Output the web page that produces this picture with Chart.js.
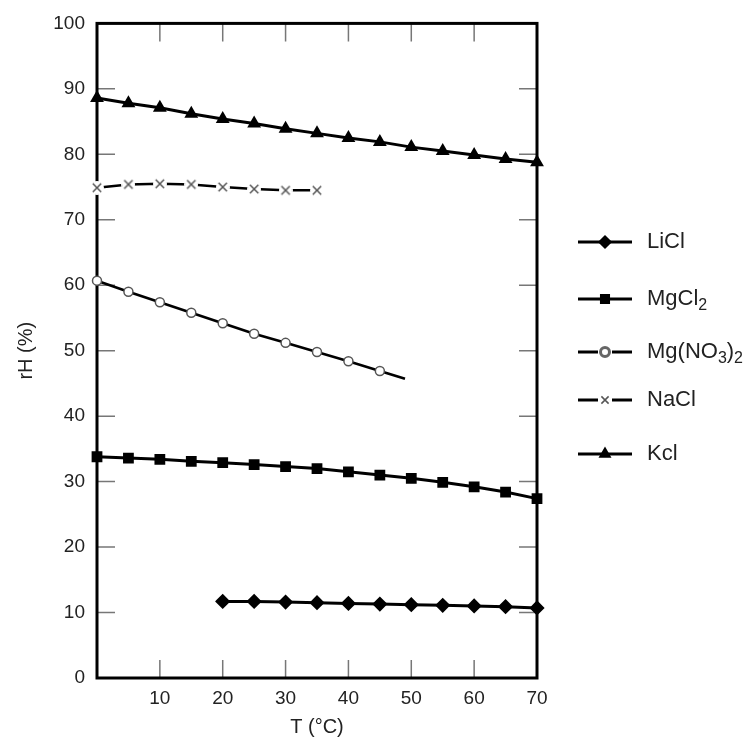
<!DOCTYPE html>
<html>
<head>
<meta charset="utf-8">
<script src="https://cdn.jsdelivr.net/npm/chart.js@4/dist/chart.umd.min.js"></script>
<style>
	html, body { margin: 0; padding: 0; background: #fff; }
	#wrap { width: 753px; height: 744px; position: relative; }
</style>
</head>
<body>
<div id="wrap"><canvas id="myChart"></canvas></div>
<script>
	// data (T in degC, rH in %)
	const tempsFull = [0, 5, 10, 15, 20, 25, 30, 35, 40, 45, 50, 55, 60, 65, 70];
	const kcl = [88.6, 87.8, 87.1, 86.2, 85.4, 84.7, 83.9, 83.2, 82.5, 81.9, 81.1, 80.5, 79.9, 79.3, 78.8];
	const mgcl2 = [33.8, 33.6, 33.4, 33.1, 32.9, 32.6, 32.3, 32.0, 31.5, 31.0, 30.5, 29.9, 29.2, 28.4, 27.4];
	const naclT = [0, 5, 10, 15, 20, 25, 30, 35];
	const nacl = [74.9, 75.4, 75.5, 75.4, 75.0, 74.7, 74.5, 74.5];
	const mgno3T = [0, 5, 10, 15, 20, 25, 30, 35, 40, 45, 49];
	const mgno3 = [60.7, 59.0, 57.4, 55.8, 54.2, 52.6, 51.2, 49.8, 48.4, 46.9, 45.7];
	const liclT = [20, 25, 30, 35, 40, 45, 50, 55, 60, 65, 70];
	const licl = [11.7, 11.7, 11.6, 11.5, 11.4, 11.3, 11.2, 11.1, 11.0, 10.9, 10.7];

	const xTickVals = [10, 20, 30, 40, 50, 60, 70];
	const yTickVals = [0, 10, 20, 30, 40, 50, 60, 70, 80, 90, 100];

	const FONT = '"Liberation Sans", Arial, Helvetica, sans-serif';
	const TXT = '#222';

	function pts(xs, ys) {
		return xs.map((x, i) => ({ x: x, y: ys[i] }));
	}

	// x marker with a white patch behind it so the line breaks around it
	function crossMarker(size) {
		const c = document.createElement('canvas');
		c.width = size; c.height = size;
		const g = c.getContext('2d');
		g.fillStyle = '#fff';
		g.beginPath();
		g.arc(size / 2, size / 2, size / 2, 0, Math.PI * 2);
		g.fill();
		g.strokeStyle = '#555';
		g.lineWidth = 1.5;
		const a = size * 0.2, b = size * 0.8;
		g.beginPath();
		g.moveTo(a, a); g.lineTo(b, b);
		g.moveTo(b, a); g.lineTo(a, b);
		g.stroke();
		return c;
	}
	const xMark = crossMarker(14);
	const xMarkSmall = crossMarker(12);

	const mgno3Radius = mgno3T.map((t, i) => i === mgno3T.length - 1 ? 0 : 4.5);

	// frame + inward ticks on all sides
	const framePlugin = {
		id: 'frame',
		beforeDatasetsDraw(chart) {
			const { ctx, chartArea: a, scales } = chart;
			ctx.save();
			ctx.strokeStyle = '#777';
			ctx.lineWidth = 1.5;
			ctx.beginPath();
			xTickVals.forEach(v => {
				if (v >= 70) return;
				const x = scales.x.getPixelForValue(v);
				ctx.moveTo(x, a.bottom); ctx.lineTo(x, a.bottom - 18);
				ctx.moveTo(x, a.top); ctx.lineTo(x, a.top + 18);
			});
			yTickVals.forEach(v => {
				if (v <= 0 || v >= 100) return;
				const y = scales.y.getPixelForValue(v);
				ctx.moveTo(a.left, y); ctx.lineTo(a.left + 18, y);
				ctx.moveTo(a.right, y); ctx.lineTo(a.right - 18, y);
			});
			ctx.stroke();
			ctx.strokeStyle = '#000';
			ctx.lineWidth = 3;
			ctx.strokeRect(a.left, a.top, a.right - a.left, a.bottom - a.top);
			ctx.restore();
		}
	};

	// legend drawn by hand to get line + marker and subscripts
	const legendItems = [
		{ y: 242, style: 'rectRot', r: 5, fill: '#000', stroke: '#000', gap: 0, parts: [['LiCl', 0]] },
		{ y: 299, style: 'rect', r: 5, fill: '#000', stroke: '#000', gap: 0, parts: [['MgCl', 0], ['2', 1]] },
		{ y: 352, style: 'circle', r: 4.5, fill: '#fff', stroke: '#666', gap: 7, parts: [['Mg(NO', 0], ['3', 1], [')', 0], ['2', 1]] },
		{ y: 400, style: xMarkSmall, r: 5, fill: '#fff', stroke: '#555', gap: 7, parts: [['NaCl', 0]] },
		{ y: 454, style: 'triangle', r: 4.5, fill: '#000', stroke: '#000', gap: 0, parts: [['Kcl', 0]] }
	];
	const legendPlugin = {
		id: 'sideLegend',
		afterDraw(chart) {
			const ctx = chart.ctx;
			ctx.save();
			legendItems.forEach(it => {
				ctx.strokeStyle = '#000';
				ctx.lineWidth = 3;
				ctx.beginPath();
				ctx.moveTo(578, it.y); ctx.lineTo(605 - it.gap, it.y);
				ctx.moveTo(605 + it.gap, it.y); ctx.lineTo(632, it.y);
				ctx.stroke();
				ctx.fillStyle = it.fill;
				ctx.strokeStyle = it.stroke;
				Chart.helpers.drawPoint(ctx, { pointStyle: it.style, radius: it.r, rotation: 0, borderWidth: 1.2 }, 605, it.y);
				let x = 647;
				ctx.fillStyle = TXT;
				ctx.textBaseline = 'middle';
				ctx.textAlign = 'left';
				it.parts.forEach(([s, sub]) => {
					ctx.font = (sub ? '16px ' : '22px ') + FONT;
					ctx.fillText(s, x, it.y + (sub ? 7 : 0));
					x += ctx.measureText(s).width;
				});
			});
			ctx.restore();
		}
	};

	window.onload = () => {
		const ctx = document.getElementById('myChart').getContext('2d');
		new Chart(ctx, {
			type: 'line',
			data: {
				datasets: [
					{
						label: 'LiCl',
						data: pts(liclT, licl),
						borderColor: '#000', borderWidth: 3,
						pointStyle: 'rectRot', pointRadius: 5.5,
						pointBackgroundColor: '#000', pointBorderColor: '#000',
						clip: false
					},
					{
						label: 'MgCl2',
						data: pts(tempsFull, mgcl2),
						borderColor: '#000', borderWidth: 3,
						pointStyle: 'rect', pointRadius: 5.5,
						pointBackgroundColor: '#000', pointBorderColor: '#000',
						clip: false
					},
					{
						label: 'Mg(NO3)2',
						data: pts(mgno3T, mgno3),
						borderColor: '#000', borderWidth: 2.6,
						pointStyle: 'circle', pointRadius: mgno3Radius,
						pointBackgroundColor: '#fff', pointBorderColor: '#555', pointBorderWidth: 1.5,
						clip: false
					},
					{
						label: 'NaCl',
						data: pts(naclT, nacl),
						borderColor: '#000', borderWidth: 2.6,
						pointStyle: xMark, pointRadius: 5,
						clip: false
					},
					{
						label: 'Kcl',
						data: pts(tempsFull, kcl),
						borderColor: '#000', borderWidth: 3,
						pointStyle: 'triangle', pointRadius: 5,
						pointBackgroundColor: '#000', pointBorderColor: '#000',
						clip: false
					}
				]
			},
			options: {
				responsive: true,
				maintainAspectRatio: false,
				animation: false,
				layout: { padding: { top: 16, right: 216, left: 0, bottom: 0 } },
				plugins: { legend: { display: false }, tooltip: { enabled: false } },
				scales: {
					x: {
						type: 'linear',
						min: 0, max: 70,
						grid: { display: false, drawTicks: false },
						border: { display: false },
						afterBuildTicks: s => { s.ticks = xTickVals.map(v => ({ value: v })); },
						afterFit: s => { s.height = 66; },
						ticks: {
							autoSkip: false, maxRotation: 0, padding: 9,
							color: TXT, font: { family: FONT, size: 19 }
						},
						title: {
							display: true, text: 'T (°C)', color: TXT,
							font: { family: FONT, size: 20 },
							padding: { top: 0, bottom: 5 }
						}
					},
					y: {
						min: 0, max: 100,
						grid: { display: false, drawTicks: false },
						border: { display: false },
						afterBuildTicks: s => { s.ticks = yTickVals.map(v => ({ value: v })); },
						afterFit: s => { s.width = 97; },
						ticks: {
							padding: 12,
							color: TXT, font: { family: FONT, size: 19 }
						},
						title: {
							display: true, text: 'rH (%)', color: TXT,
							font: { family: FONT, size: 20 },
							padding: { top: 14, bottom: 0 }
						}
					}
				}
			},
			plugins: [framePlugin, legendPlugin]
		});
	};
</script>
</body>
</html>
